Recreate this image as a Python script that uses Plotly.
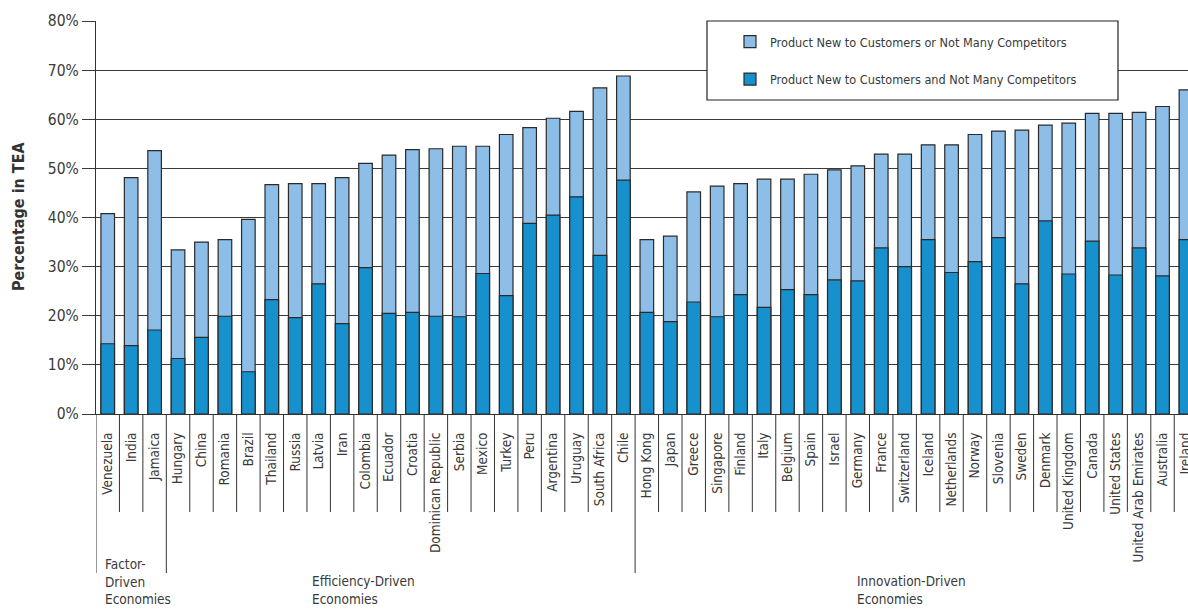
import plotly.graph_objects as go

countries = ["Venezuela", "India", "Jamaica",
             "Hungary", "China", "Romania", "Brazil", "Thailand", "Russia", "Latvia", "Iran",
             "Colombia", "Ecuador", "Croatia", "Dominican Republic", "Serbia", "Mexico", "Turkey",
             "Peru", "Argentina", "Uruguay", "South Africa", "Chile",
             "Hong Kong", "Japan", "Greece", "Singapore", "Finland", "Italy", "Belgium", "Spain",
             "Israel", "Germany", "France", "Switzerland", "Iceland", "Netherlands", "Norway",
             "Slovenia", "Sweden", "Denmark", "United Kingdom", "Canada", "United States",
             "United Arab Emirates", "Australia", "Ireland"]

or_vals = [40.8, 48.1, 53.6,
           33.4, 35.0, 35.5, 39.6, 46.7, 46.9, 46.9, 48.1,
           51.0, 52.7, 53.8, 54.0, 54.5, 54.5, 56.9,
           58.3, 60.2, 61.6, 66.4, 68.8,
           35.5, 36.2, 45.2, 46.4, 46.9, 47.8, 47.8, 48.8,
           49.7, 50.5, 52.9, 52.9, 54.8, 54.8, 56.9,
           57.6, 57.8, 58.8, 59.2, 61.2, 61.2,
           61.4, 62.6, 66.0]

and_vals = [14.3, 13.9, 17.1,
            11.3, 15.6, 19.9, 8.6, 23.3, 19.6, 26.5, 18.4,
            29.8, 20.5, 20.7, 19.9, 19.8, 28.6, 24.1,
            38.8, 40.5, 44.2, 32.3, 47.6,
            20.7, 18.8, 22.8, 19.8, 24.3, 21.7, 25.3, 24.3,
            27.3, 27.1, 33.8, 30.0, 35.5, 28.8, 31.0,
            35.9, 26.5, 39.3, 28.5, 35.2, 28.3,
            33.8, 28.1, 35.5]

groups = [("Factor-<br>Driven<br>Economies", 0, 2),
          ("Efficiency-Driven<br>Economies", 3, 22),
          ("Innovation-Driven<br>Economies", 23, 46)]

y_ticks = [0, 10, 20, 30, 40, 50, 60, 70, 80]

FONT = "DejaVu Sans Condensed, DejaVu Sans, sans-serif"
LIGHT = "#8DBEE8"
DARK = "#1790CE"
EDGE = "#2a2a2a"
TXT = "#3a3a3a"

W, H = 1188, 612
PL, PT, PB = 96, 21, 414          # plot left / top / bottom in page pixels
L, R, T = PL, 0, PT
plot_h = PB - PT
B = H - T - plot_h
plot_w = W - L - R


def px_x(p):
    return (p - PL) / plot_w


def px_y(p):
    return (PB - p) / plot_h


fig = go.Figure()
fig.add_trace(go.Bar(x=countries, y=or_vals, name="Product New to Customers or Not Many Competitors",
                     marker=dict(color=LIGHT, line=dict(color=EDGE, width=1.2)),
                     legendgroup="a"))
fig.add_trace(go.Bar(x=countries, y=and_vals, name="Product New to Customers and Not Many Competitors",
                     marker=dict(color=DARK, line=dict(color=EDGE, width=1.2)),
                     legendgroup="b"))

shapes = []
# legend box
shapes.append(dict(type="rect", xref="paper", yref="paper",
                   x0=px_x(707), x1=px_x(1118), y0=px_y(100), y1=1.0,
                   line=dict(color="#222", width=1.2), fillcolor="white", layer="above"))
# category separators
group_edges = set()
for _, a, b in groups:
    group_edges.add(a - 0.5)
    group_edges.add(b + 0.5)
n = len(countries)
for i in range(-1, n - 1):
    xb = i + 0.5
    yend = px_y(573) if xb in group_edges else px_y(512)
    shapes.append(dict(type="line", xref="x", yref="paper", x0=xb, x1=xb, y0=0, y1=yend,
                       line=dict(color="#333", width=1)))

annotations = []
label_px = {0: 103, 3: 310, 23: 855}
for text, a, b in groups:
    annotations.append(dict(text=text, xref="paper", yref="paper",
                            x=px_x(label_px[a]), y=px_y(609),
                            xanchor="left", yanchor="bottom", align="left", showarrow=False,
                            font=dict(family=FONT, size=13.5, color=TXT)))
annotations.append(dict(text="<b>Percentage in TEA</b>", xref="paper", yref="paper",
                        x=px_x(18), y=px_y(217), textangle=-90, showarrow=False,
                        xanchor="center", yanchor="middle",
                        font=dict(family=FONT, size=16, color="#333")))

fig.update_layout(
    width=W, height=H,
    margin=dict(l=L, r=R, t=T, b=B),
    barmode="overlay", bargap=0.42,
    plot_bgcolor="white", paper_bgcolor="white",
    font=dict(family=FONT, color=TXT),
    shapes=shapes, annotations=annotations,
    showlegend=True,
    legend=dict(x=px_x(730), y=px_y(27), xanchor="left", yanchor="top",
                bgcolor="rgba(0,0,0,0)", borderwidth=0, traceorder="grouped",
                tracegroupgap=18, font=dict(family=FONT, size=12.6, color=TXT)),
)
fig.update_xaxes(range=[-0.5, -0.5 + plot_w / 23.44], tickangle=-90, showgrid=False,
                 showline=True, linecolor="#333", linewidth=1.2, ticks="",
                 ticklabelstandoff=12,
                 tickfont=dict(family=FONT, size=13.5, color=TXT), automargin=False)
fig.update_yaxes(range=[0, 80], tickvals=y_ticks, ticktext=[f"{v}%" for v in y_ticks],
                 showgrid=True, gridcolor="#3a3a3a", gridwidth=1.2,
                 showline=True, linecolor="#333", linewidth=1.2,
                 ticks="outside", ticklen=13, tickcolor="#3a3a3a", tickwidth=1.2,
                 zeroline=False, tickfont=dict(family=FONT, size=15.5, color=TXT), automargin=False)

fig.write_html("out.html", config={"displayModeBar": False},
               post_script="document.body.style.margin='0';document.body.style.overflow='hidden';")
